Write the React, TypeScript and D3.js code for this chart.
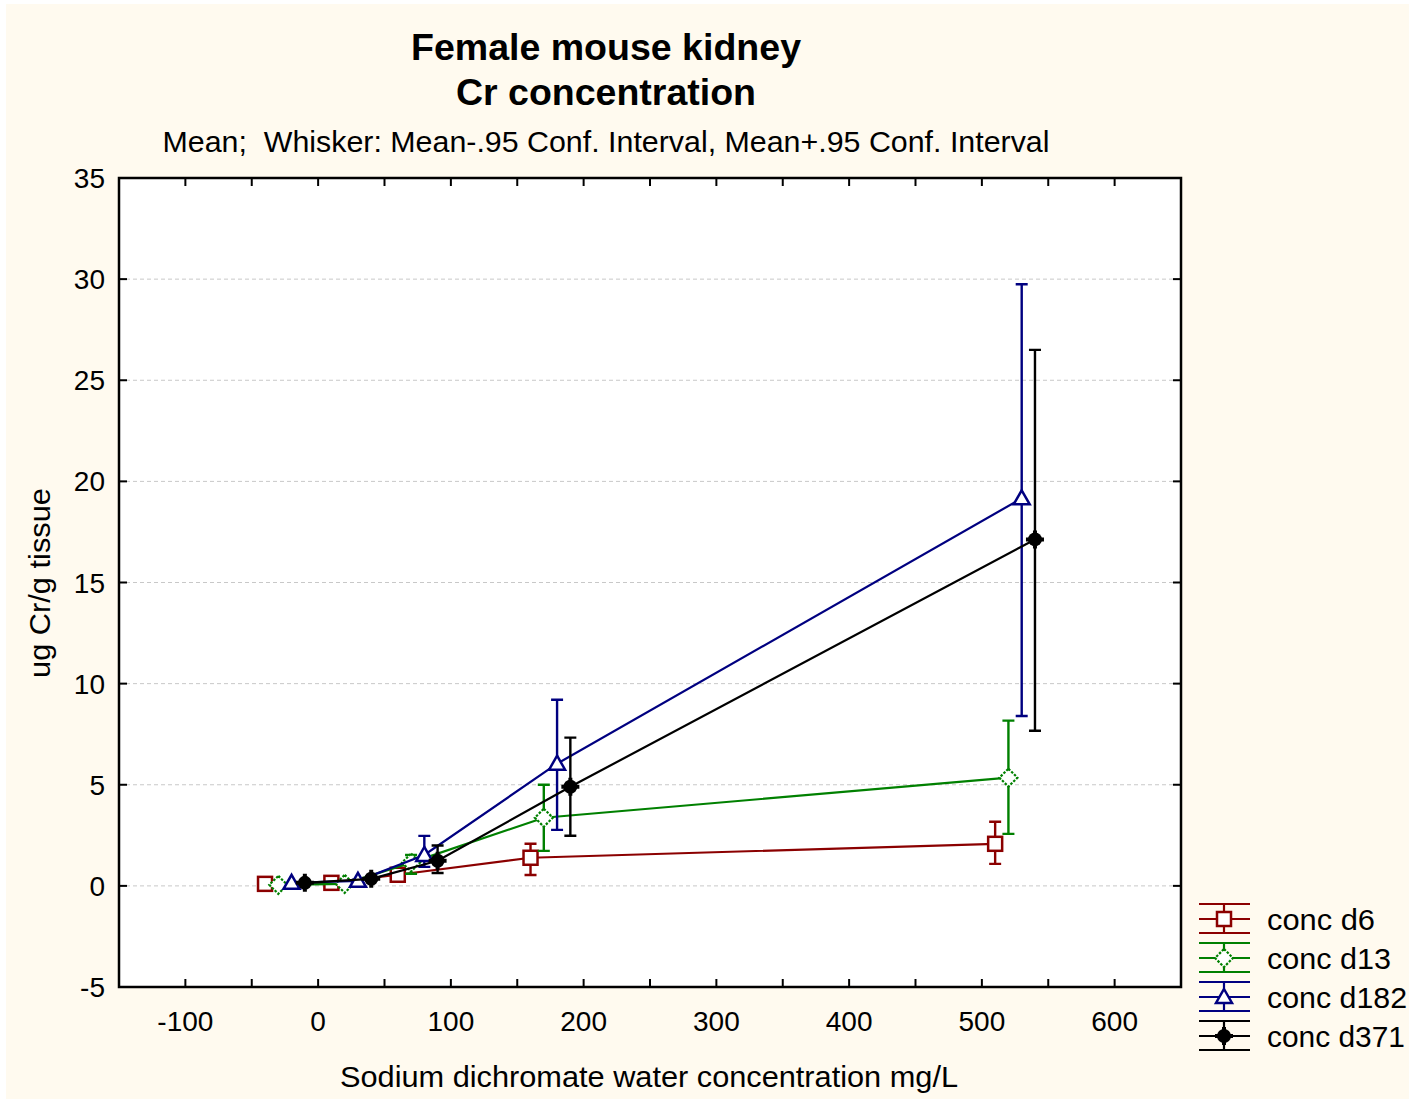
import { useEffect, useRef } from "react";
import * as d3 from "d3";

// x positions are offset per series in the original plot
const xD6 = [-40, 10, 60, 160, 510];
const meanD6 = [0.1, 0.15, 0.55, 1.39, 2.08];
const loD6 = [0.1, 0.15, 0.45, 0.54, 1.09];
const hiD6 = [0.1, 0.15, 0.65, 2.08, 3.17];

const xD13 = [-30, 20, 70, 170, 520];
const meanD13 = [0.05, 0.1, 1.15, 3.37, 5.35];
const loD13 = [0.05, 0.1, 0.6, 1.73, 2.57];
const hiD13 = [0.05, 0.1, 1.53, 5.0, 8.17];

const xD182 = [-20, 30, 80, 180, 530];
const meanD182 = [0.15, 0.25, 1.53, 6.04, 19.16];
const loD182 = [0.15, 0.2, 0.94, 2.77, 8.4];
const hiD182 = [0.15, 0.3, 2.47, 9.2, 29.75];

const xD371 = [-10, 40, 90, 190, 540];
const meanD371 = [0.15, 0.35, 1.24, 4.9, 17.13];
const loD371 = [0.1, 0.25, 0.64, 2.48, 7.67];
const hiD371 = [0.2, 0.45, 2.0, 7.33, 26.5];

const seriesNames = ["conc d6", "conc d13", "conc d182", "conc d371"];
const xTicks = [-100, 0, 100, 200, 300, 400, 500, 600];
const yTicks = [-5, 0, 5, 10, 15, 20, 25, 30, 35];

const FONT = "'Liberation Sans', Arial, sans-serif";

const App = () => {
  const svgRef = useRef<SVGSVGElement>(null);

  useEffect(() => {
    const W = 1415, H = 1103;
    const left = 119, right = 1181, top = 178, bottom = 987;

    const svg = d3.select(svgRef.current);
    svg.selectAll("*").remove();
    svg.attr("width", W).attr("height", H);

    // page background
    svg.append("rect").attr("width", W).attr("height", H).attr("fill", "#fff");
    svg.append("rect").attr("x", 6).attr("y", 4).attr("width", W - 12).attr("height", H - 8).attr("fill", "#fffaef");
    svg.append("rect").attr("x", left).attr("y", top).attr("width", right - left).attr("height", bottom - top).attr("fill", "#fff");

    const x = d3.scaleLinear().domain([-150, 650]).range([left, right]);
    const y = d3.scaleLinear().domain([-5, 35]).range([bottom, top]);

    // dashed grid
    svg.append("g").selectAll("line")
      .data(yTicks.filter(t => t > -5 && t < 35))
      .enter().append("line")
      .attr("x1", left).attr("x2", right)
      .attr("y1", d => y(d)).attr("y2", d => y(d))
      .attr("stroke", "#c8c8c8").attr("stroke-width", 1).attr("stroke-dasharray", "4,3");

    // inward ticks on all four sides
    const xMinor = d3.range(-150, 651, 50);
    const tk = svg.append("g").attr("stroke", "#000").attr("stroke-width", 2);
    xMinor.filter(t => t > -150 && t < 650).forEach(t => {
      tk.append("line").attr("x1", x(t)).attr("x2", x(t)).attr("y1", bottom).attr("y2", bottom - 8);
      tk.append("line").attr("x1", x(t)).attr("x2", x(t)).attr("y1", top).attr("y2", top + 8);
    });
    yTicks.filter(t => t > -5 && t < 35).forEach(t => {
      tk.append("line").attr("x1", left).attr("x2", left + 8).attr("y1", y(t)).attr("y2", y(t));
      tk.append("line").attr("x1", right).attr("x2", right - 8).attr("y1", y(t)).attr("y2", y(t));
    });

    svg.append("rect").attr("x", left).attr("y", top).attr("width", right - left).attr("height", bottom - top)
      .attr("fill", "none").attr("stroke", "#000").attr("stroke-width", 2.5);

    // tick labels
    svg.append("g").selectAll("text").data(xTicks).enter().append("text")
      .attr("x", d => x(d)).attr("y", 1031).attr("text-anchor", "middle")
      .style("font-family", FONT).style("font-size", "28px").text(d => d);
    svg.append("g").selectAll("text").data(yTicks).enter().append("text")
      .attr("x", 105).attr("y", d => y(d) + 10).attr("text-anchor", "end")
      .style("font-family", FONT).style("font-size", "28px").text(d => d);

    // titles
    const addText = (tx: number, ty: number, size: number, len: number, txt: string, bold = false, rot = false) => {
      const t = svg.append("text")
        .attr("text-anchor", "middle")
        .attr("textLength", len).attr("lengthAdjust", "spacingAndGlyphs")
        .attr("xml:space", "preserve")
        .style("font-family", FONT).style("font-size", `${size}px`)
        .style("font-weight", bold ? "bold" : "normal")
        .text(txt);
      if (rot) t.attr("transform", `translate(${tx},${ty}) rotate(-90)`);
      else t.attr("x", tx).attr("y", ty);
    };
    addText(606, 60, 37, 390, "Female mouse kidney", true);
    addText(606, 105, 37, 300, "Cr concentration", true);
    addText(606, 152, 29, 887, "Mean;  Whisker: Mean-.95 Conf. Interval, Mean+.95 Conf. Interval");
    addText(649, 1087, 29, 618, "Sodium dichromate water concentration mg/L");
    addText(50, 583, 29, 190, "ug Cr/g tissue", false, true);

    const series = [
      { name: seriesNames[0], color: "#8b0000", marker: "square", xs: xD6, m: meanD6, lo: loD6, hi: hiD6 },
      { name: seriesNames[1], color: "#008000", marker: "diamond", xs: xD13, m: meanD13, lo: loD13, hi: hiD13 },
      { name: seriesNames[2], color: "#000080", marker: "triangle", xs: xD182, m: meanD182, lo: loD182, hi: hiD182 },
      { name: seriesNames[3], color: "#000000", marker: "dot", xs: xD371, m: meanD371, lo: loD371, hi: hiD371 },
    ];

    const drawMarker = (g: any, cx: number, cy: number, s: any) => {
      if (s.marker === "square") {
        g.append("rect").attr("x", cx - 7).attr("y", cy - 7).attr("width", 14).attr("height", 14)
          .attr("fill", "#fff").attr("stroke", s.color).attr("stroke-width", 2.5);
      } else if (s.marker === "diamond") {
        g.append("path").attr("d", `M${cx},${cy - 9}L${cx + 9},${cy}L${cx},${cy + 9}L${cx - 9},${cy}Z`)
          .attr("fill", "#fff").attr("stroke", s.color).attr("stroke-width", 2.2).attr("stroke-dasharray", "2.5,1.5");
      } else if (s.marker === "triangle") {
        g.append("path").attr("d", `M${cx},${cy - 8}L${cx + 8},${cy + 6}L${cx - 8},${cy + 6}Z`)
          .attr("fill", "#fff").attr("stroke", s.color).attr("stroke-width", 2.5);
      } else {
        g.append("circle").attr("cx", cx).attr("cy", cy).attr("r", 7).attr("fill", s.color);
        g.append("path").attr("d", `M${cx - 9},${cy}H${cx + 9}M${cx},${cy - 9}V${cy + 9}`)
          .attr("stroke", s.color).attr("stroke-width", 4);
      }
    };

    series.forEach(s => {
      const g = svg.append("g");
      const pts = s.xs.map((xv, i) => [x(xv), y(s.m[i])] as [number, number]);
      g.append("path").attr("d", d3.line()(pts)).attr("fill", "none")
        .attr("stroke", s.color).attr("stroke-width", 2.2);
      s.xs.forEach((xv, i) => {
        const cx = x(xv);
        if (s.hi[i] - s.lo[i] > 0.05) {
          const yt = y(s.hi[i]), yb = y(s.lo[i]);
          g.append("path").attr("d", `M${cx},${yt}V${yb}M${cx - 6},${yt}H${cx + 6}M${cx - 6},${yb}H${cx + 6}`)
            .attr("stroke", s.color).attr("stroke-width", 2.4).attr("fill", "none");
        }
        drawMarker(g, cx, y(s.m[i]), s);
      });
    });

    // legend
    series.forEach((s, i) => {
      const cy = 919 + i * 39;
      const g = svg.append("g");
      g.append("path").attr("d", `M1199,${cy - 15}H1250M1199,${cy}H1250M1199,${cy + 14}H1250M1224,${cy - 15}V${cy + 14}`)
        .attr("stroke", s.color).attr("stroke-width", 2.2).attr("fill", "none");
      drawMarker(g, 1224, cy, s);
      g.append("text").attr("x", 1267).attr("y", cy + 11)
        .attr("textLength", [108, 124, 140, 138][i]).attr("lengthAdjust", "spacingAndGlyphs")
        .style("font-family", FONT).style("font-size", "29px").text(s.name);
    });
  }, []);

  return <svg ref={svgRef} style={{ position: "absolute", left: 0, top: 0, display: "block" }}></svg>;
};

export default App;
